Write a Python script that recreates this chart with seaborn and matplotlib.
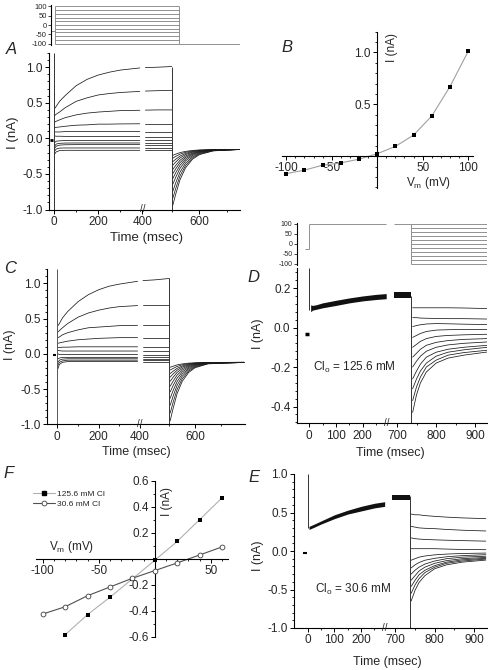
import numpy as np
import pandas as pd
import matplotlib
matplotlib.use("Agg")
import matplotlib.pyplot as plt
import seaborn as sns
from matplotlib.ticker import FixedLocator, AutoMinorLocator, MultipleLocator, FormatStrFormatter
from matplotlib.lines import Line2D

# ---------------- data ----------------
STEP_LEVELS = [100, 80, 60, 40, 20, 0, -20, -40, -60, -80, -100]

# Panel A (current traces, nA)
A_T_PULSE = [3, 10, 25, 50, 100, 150, 200, 250, 300, 388, 410, 450, 500]
A_PULSE = [
    [0.42, 0.45, 0.52, 0.60, 0.74, 0.83, 0.89, 0.93, 0.96, 0.99, 0.995, 1.00, 1.01],
    [0.32, 0.34, 0.37, 0.43, 0.52, 0.57, 0.61, 0.63, 0.645, 0.66, 0.665, 0.67, 0.675],
    [0.23, 0.24, 0.26, 0.29, 0.33, 0.355, 0.37, 0.38, 0.39, 0.395, 0.397, 0.40, 0.40],
    [0.15, 0.155, 0.16, 0.17, 0.185, 0.19, 0.20, 0.20, 0.203, 0.205, 0.205, 0.205, 0.205],
    [0.09, 0.09, 0.09, 0.095, 0.095, 0.095, 0.095, 0.095, 0.095, 0.095, 0.095, 0.095, 0.095],
    [0.035, 0.03, 0.03, 0.028, 0.025, 0.025, 0.025, 0.025, 0.025, 0.025, 0.025, 0.025, 0.025],
    [-0.06, -0.04, -0.035, -0.03, -0.03, -0.03, -0.03, -0.03, -0.03, -0.03, -0.03, -0.03, -0.03],
    [-0.11, -0.08, -0.07, -0.066, -0.065, -0.065, -0.065, -0.065, -0.065, -0.065, -0.065, -0.065, -0.065],
    [-0.14, -0.11, -0.095, -0.09, -0.088, -0.087, -0.087, -0.087, -0.087, -0.087, -0.087, -0.087, -0.087],
    [-0.18, -0.15, -0.137, -0.135, -0.135, -0.135, -0.135, -0.135, -0.135, -0.135, -0.135, -0.135, -0.135],
    [-0.22, -0.19, -0.172, -0.168, -0.168, -0.168, -0.168, -0.168, -0.168, -0.168, -0.168, -0.168, -0.168],
]
A_T_TAIL = [503, 515, 530, 550, 575, 600, 650, 745]
A_TAIL = [
    [-0.95, -0.774, -0.580, -0.413, -0.293, -0.229, -0.176, -0.157],
    [-0.85, -0.696, -0.527, -0.381, -0.276, -0.220, -0.174, -0.157],
    [-0.75, -0.618, -0.473, -0.348, -0.259, -0.210, -0.171, -0.156],
    [-0.65, -0.541, -0.420, -0.316, -0.241, -0.201, -0.168, -0.156],
    [-0.57, -0.478, -0.377, -0.290, -0.227, -0.194, -0.166, -0.156],
    [-0.50, -0.424, -0.340, -0.267, -0.215, -0.187, -0.164, -0.156],
    [-0.44, -0.377, -0.307, -0.248, -0.205, -0.182, -0.163, -0.156],
    [-0.38, -0.330, -0.275, -0.228, -0.194, -0.176, -0.161, -0.155],
    [-0.33, -0.291, -0.249, -0.212, -0.185, -0.171, -0.160, -0.155],
    [-0.28, -0.252, -0.222, -0.196, -0.177, -0.167, -0.158, -0.155],
    [-0.24, -0.221, -0.200, -0.183, -0.170, -0.163, -0.157, -0.155],
]
A_HOLD = [-18, -6]
A_HOLD_I = [-0.03, -0.03]

# Panel B (steady-state I-V)
B_V = [-100, -80, -60, -40, -20, 0, 20, 40, 60, 80, 100]
B_I = [-0.168, -0.135, -0.087, -0.065, -0.029, 0.023, 0.094, 0.203, 0.387, 0.671, 1.01]

# Panel C
C_T_PULSE = [3, 10, 25, 50, 100, 150, 200, 250, 300, 388, 410, 450, 500]
C_PULSE = [
    [0.40, 0.43, 0.51, 0.60, 0.74, 0.84, 0.91, 0.96, 0.99, 1.03, 1.04, 1.05, 1.07],
    [0.31, 0.33, 0.37, 0.43, 0.52, 0.58, 0.62, 0.65, 0.67, 0.685, 0.69, 0.69, 0.69],
    [0.23, 0.24, 0.27, 0.30, 0.34, 0.37, 0.38, 0.39, 0.40, 0.405, 0.41, 0.41, 0.41],
    [0.15, 0.155, 0.165, 0.18, 0.20, 0.21, 0.22, 0.225, 0.23, 0.23, 0.23, 0.23, 0.23],
    [0.09, 0.09, 0.095, 0.095, 0.10, 0.10, 0.10, 0.10, 0.10, 0.10, 0.10, 0.10, 0.10],
    [0.05, 0.045, 0.04, 0.04, 0.04, 0.04, 0.04, 0.04, 0.04, 0.04, 0.04, 0.04, 0.04],
    [0.0, -0.01, -0.01, -0.01, -0.01, -0.01, -0.01, -0.01, -0.01, -0.01, -0.01, -0.01, -0.01],
    [-0.07, -0.06, -0.05, -0.05, -0.05, -0.05, -0.05, -0.05, -0.05, -0.05, -0.05, -0.05, -0.05],
    [-0.12, -0.09, -0.075, -0.07, -0.07, -0.07, -0.07, -0.07, -0.07, -0.07, -0.07, -0.07, -0.07],
    [-0.16, -0.12, -0.10, -0.09, -0.09, -0.09, -0.09, -0.09, -0.09, -0.09, -0.09, -0.09, -0.09],
    [-0.21, -0.15, -0.12, -0.11, -0.11, -0.11, -0.11, -0.11, -0.11, -0.11, -0.11, -0.11, -0.11],
]
C_T_TAIL = [503, 515, 530, 550, 575, 600, 650, 790]
C_TAIL = [
    [-0.95, -0.767, -0.564, -0.390, -0.264, -0.197, -0.142, -0.122],
    [-0.84, -0.681, -0.505, -0.354, -0.245, -0.187, -0.139, -0.122],
    [-0.73, -0.595, -0.446, -0.318, -0.226, -0.177, -0.136, -0.122],
    [-0.63, -0.517, -0.393, -0.286, -0.209, -0.167, -0.134, -0.121],
    [-0.54, -0.447, -0.345, -0.257, -0.193, -0.159, -0.131, -0.121],
    [-0.46, -0.385, -0.302, -0.231, -0.179, -0.152, -0.129, -0.121],
    [-0.39, -0.330, -0.264, -0.208, -0.167, -0.145, -0.127, -0.121],
    [-0.33, -0.284, -0.232, -0.188, -0.157, -0.140, -0.126, -0.121],
    [-0.28, -0.245, -0.206, -0.172, -0.148, -0.135, -0.124, -0.120],
    [-0.23, -0.206, -0.179, -0.156, -0.139, -0.130, -0.123, -0.120],
    [-0.19, -0.175, -0.157, -0.143, -0.132, -0.127, -0.122, -0.120],
]
C_HOLD = [-22, -4]
C_HOLD_I = [-0.015, -0.015]

# Panel D (Cl_o = 125.6 mM)
D_BAND_T1 = [5, 12, 25, 50, 100, 150, 200, 250, 288]
D_BAND_LO1 = [0.080, 0.088, 0.092, 0.100, 0.112, 0.125, 0.135, 0.142, 0.146]
D_BAND_HI1 = [0.115, 0.112, 0.115, 0.125, 0.138, 0.150, 0.160, 0.168, 0.172]
D_BAND_T2 = [692, 737]
D_BAND_LO2 = [0.150, 0.150]
D_BAND_HI2 = [0.178, 0.178]
D_T_TAIL = [740, 750, 760, 775, 800, 830, 870, 930]
D_TAIL = [
    [0.10, 0.10, 0.10, 0.10, 0.10, 0.10, 0.099, 0.096],
    [0.05, 0.05, 0.048, 0.047, 0.046, 0.045, 0.045, 0.043],
    [0.005, 0.010, 0.014, 0.018, 0.02, 0.019, 0.017, 0.015],
    [-0.05, -0.04, -0.03, -0.02, -0.013, -0.011, -0.01, -0.01],
    [-0.10, -0.085, -0.07, -0.056, -0.045, -0.04, -0.037, -0.034],
    [-0.15, -0.13, -0.11, -0.09, -0.075, -0.066, -0.06, -0.056],
    [-0.20, -0.17, -0.145, -0.12, -0.10, -0.088, -0.08, -0.073],
    [-0.26, -0.22, -0.185, -0.15, -0.125, -0.11, -0.10, -0.09],
    [-0.31, -0.26, -0.22, -0.18, -0.145, -0.125, -0.113, -0.10],
    [-0.37, -0.30, -0.25, -0.20, -0.165, -0.14, -0.127, -0.115],
    [-0.43, -0.34, -0.28, -0.225, -0.18, -0.155, -0.14, -0.124],
]
D_HOLD = [-16, -3]
D_HOLD_I = [-0.035, -0.035]

# Panel E (Cl_o = 30.6 mM)
E_BAND_T1 = [5, 12, 25, 50, 100, 150, 200, 250, 288]
E_BAND_LO1 = [0.28, 0.29, 0.31, 0.35, 0.42, 0.48, 0.52, 0.56, 0.58]
E_BAND_HI1 = [0.32, 0.33, 0.35, 0.39, 0.47, 0.53, 0.58, 0.62, 0.64]
E_BAND_T2 = [692, 737]
E_BAND_LO2 = [0.66, 0.66]
E_BAND_HI2 = [0.73, 0.73]
E_T_TAIL = [740, 750, 760, 775, 800, 830, 870, 930]
E_TAIL = [
    [0.48, 0.47, 0.47, 0.46, 0.45, 0.44, 0.43, 0.42],
    [0.32, 0.31, 0.30, 0.295, 0.29, 0.28, 0.27, 0.26],
    [0.17, 0.16, 0.155, 0.15, 0.145, 0.14, 0.135, 0.128],
    [0.03, 0.03, 0.03, 0.03, 0.03, 0.025, 0.02, 0.017],
    [-0.12, -0.10, -0.08, -0.065, -0.05, -0.04, -0.032, -0.027],
    [-0.22, -0.18, -0.15, -0.12, -0.095, -0.075, -0.06, -0.048],
    [-0.30, -0.25, -0.21, -0.17, -0.13, -0.10, -0.08, -0.068],
    [-0.38, -0.32, -0.26, -0.21, -0.16, -0.125, -0.10, -0.083],
    [-0.46, -0.38, -0.31, -0.25, -0.19, -0.145, -0.115, -0.095],
    [-0.55, -0.44, -0.36, -0.28, -0.21, -0.16, -0.13, -0.105],
    [-0.65, -0.51, -0.41, -0.32, -0.23, -0.18, -0.145, -0.118],
]
E_HOLD = [-16, -3]
E_HOLD_I = [-0.02, -0.02]

# Panel F (I-V at two [Cl]o)
F_V_HI = [-80, -60, -40, -20, 0, 20, 40, 60]
F_I_HI = [-0.585, -0.43, -0.297, -0.155, -0.013, 0.133, 0.30, 0.467]
F_V_LO = [-100, -80, -60, -40, -20, 0, 20, 40, 60]
F_I_LO = [-0.426, -0.37, -0.285, -0.218, -0.151, -0.092, -0.033, 0.028, 0.09]
F_LABELS = ["125.6 mM Cl", "30.6 mM Cl"]

# ---------------- style ----------------
sns.set_theme(style="ticks")
plt.rcParams["font.family"] = ["Liberation Sans", "DejaVu Sans"]
plt.rcParams["mathtext.fontset"] = "custom"
plt.rcParams["mathtext.rm"] = "Liberation Sans"
plt.rcParams["mathtext.it"] = "Liberation Sans:italic"
plt.rcParams["axes.unicode_minus"] = False
plt.rcParams["axes.linewidth"] = 0.8
plt.rcParams["axes.edgecolor"] = "black"

W, H = 489, 670
fig = plt.figure(figsize=(W / 100, H / 100), dpi=100)


def box(l, t, r, b):
    return [l / W, 1 - b / H, (r - l) / W, (b - t) / H]


def fx(px):
    return px / W


def fy(py):
    return 1 - py / H


def pw(tb, ub):
    tb = np.asarray(tb, float)
    ub = np.asarray(ub, float)
    return (lambda x: np.interp(x, tb, ub), lambda u: np.interp(u, ub, tb))


def draw_segments(ax, segs, color="black", lw=0.6):
    rows = []
    for k, (ts, vs) in enumerate(segs):
        rows += [(t, v, k) for t, v in zip(ts, vs)]
    df = pd.DataFrame(rows, columns=["t", "I", "seg"])
    sns.lineplot(data=df, x="t", y="I", units="seg", estimator=None, color=color,
                 lw=lw, ax=ax, legend=False, sort=True)


def style_trace_axes(ax, labelsize=8):
    ax.spines[["top", "right"]].set_visible(False)
    ax.tick_params(which="major", direction="out", length=3, width=0.7, labelsize=labelsize, pad=1.5,
                   color="black")
    ax.tick_params(which="minor", direction="out", length=1.6, width=0.6, color="black")
    ax.set_xlabel("")
    ax.set_ylabel("")


TXT = dict(color="black")

# ---------------- Panel A protocol ----------------
axAp = fig.add_axes(box(51, 5, 240, 45))
axAp.hlines(STEP_LEVELS, 0, 500, color="#808080", lw=0.6)
axAp.vlines([0, 500], -100, 100, color="#808080", lw=0.6)
axAp.hlines([-100], 500, 743, color="#808080", lw=0.6)
axAp.hlines([-30], -16, 0, color="#808080", lw=0.6, clip_on=False)
axAp.set_xlim(-16, 743)
axAp.set_ylim(-108, 108)
axAp.spines[["top", "right", "bottom"]].set_visible(False)
axAp.set_xticks([])
axAp.set_yticks([100, 50, 0, -50, -100])
axAp.tick_params(axis="y", direction="out", length=2, width=0.6, labelsize=5.5, pad=1)

# ---------------- Panel A main ----------------
axA = fig.add_axes(box(49, 53, 240, 209.5))
segsA = []
for vals in A_PULSE:
    segsA.append((A_T_PULSE[:10], vals[:10]))
    segsA.append((A_T_PULSE[10:], vals[10:]))
for vals in A_TAIL:
    segsA.append((A_T_TAIL, vals))
draw_segments(axA, segsA, color="#1a1a1a", lw=0.55)
axA.vlines([0], -1.0, 1.2, color="#333333", lw=0.7)
axA.vlines([500], -1.0, 1.01, color="#333333", lw=0.7)
axA.plot(A_HOLD, A_HOLD_I, color="black", lw=2.0, solid_capstyle="butt")
axA.set_xscale("function", functions=pw([-10000, 400, 500, 10000], [-2210, 88.4, 117.7, 2739.7]))
axA.set_xlim(-22.6, 747)
axA.set_ylim(-1.0, 1.2)
axA.xaxis.set_major_locator(FixedLocator([0, 200, 400, 600]))
axA.xaxis.set_minor_locator(FixedLocator([100, 300, 500, 700]))
axA.set_xticklabels(["0", "200", "400", "600"])
axA.yaxis.set_major_locator(FixedLocator([-1.0, -0.5, 0.0, 0.5, 1.0]))
axA.yaxis.set_minor_locator(MultipleLocator(0.1))
axA.yaxis.set_major_formatter(FormatStrFormatter("%.1f"))
style_trace_axes(axA, 8.5)
axA.text(400, -1.0, "//", ha="center", va="center", fontsize=7, clip_on=False)
fig.text(fx(146.7), fy(238), "Time (msec)", ha="center", va="center", fontsize=9.5)
fig.text(fx(13.3), fy(132.5), "I (nA)", ha="center", va="center", rotation=90, fontsize=9.5)
fig.text(fx(11), fy(50), "A", ha="center", va="center", fontsize=12, style="italic")

# ---------------- Panel B ----------------
axB = fig.add_axes(box(281.7, 31.7, 472.7, 188.3))
sns.lineplot(x=B_V, y=B_I, color="#a0a0a0", lw=0.8, ax=axB, sort=False)
sns.scatterplot(x=B_V, y=B_I, marker="s", color="black", s=8, linewidth=0, ax=axB, zorder=3)
axB.set_xlim(-105, 105)
axB.set_ylim(-0.31, 1.2)
axB.spines["left"].set_position(("data", 0))
axB.spines["bottom"].set_position(("data", 0))
axB.spines[["top", "right"]].set_visible(False)
axB.xaxis.set_major_locator(FixedLocator([-100, -50, 50, 100]))
axB.xaxis.set_minor_locator(MultipleLocator(10))
axB.yaxis.set_major_locator(FixedLocator([0.5, 1.0]))
axB.yaxis.set_minor_locator(MultipleLocator(0.1))
axB.yaxis.set_major_formatter(FormatStrFormatter("%.1f"))
style_trace_axes(axB, 8.5)
fig.text(fx(392), fy(48), "I (nA)", ha="center", va="center", rotation=90, fontsize=8.5)
fig.text(fx(429), fy(182.7), r"V$_\mathregular{m}$ (mV)", ha="center", va="center", fontsize=8.5)
fig.text(fx(287), fy(47.7), "B", ha="center", va="center", fontsize=12, style="italic")

# ---------------- Panel C ----------------
axC = fig.add_axes(box(47, 269.3, 245, 424.3))
segsC = []
for vals in C_PULSE:
    segsC.append((C_T_PULSE[:10], vals[:10]))
    segsC.append((C_T_PULSE[10:], vals[10:]))
for vals in C_TAIL:
    segsC.append((C_T_TAIL, vals))
draw_segments(axC, segsC, color="#1a1a1a", lw=0.55)
axC.vlines([0], -1.0, 1.2, color="#555555", lw=0.7)
axC.vlines([500], -1.0, 1.07, color="#333333", lw=0.7)
axC.plot(C_HOLD, C_HOLD_I, color="black", lw=1.5, solid_capstyle="butt")
axC.set_xscale("function", functions=pw([-10000, 400, 500, 10000], [-2068, 82.7, 112.0, 2553.5]))
axC.set_xlim(-49.8, 794)
axC.set_ylim(-1.0, 1.2)
axC.xaxis.set_major_locator(FixedLocator([0, 200, 400, 600]))
axC.xaxis.set_minor_locator(FixedLocator([100, 300, 500, 700]))
axC.set_xticklabels(["0", "200", "400", "600"])
axC.yaxis.set_major_locator(FixedLocator([-1.0, -0.5, 0.0, 0.5, 1.0]))
axC.yaxis.set_minor_locator(MultipleLocator(0.1))
axC.yaxis.set_major_formatter(FormatStrFormatter("%.1f"))
style_trace_axes(axC, 8.5)
axC.text(400, -1.0, "//", ha="center", va="center", fontsize=7, clip_on=False)
fig.text(fx(136.7), fy(451.7), "Time (msec)", ha="center", va="center", fontsize=9)
fig.text(fx(10), fy(345), "I (nA)", ha="center", va="center", rotation=90, fontsize=9)
fig.text(fx(10), fy(268.3), "C", ha="center", va="center", fontsize=12, style="italic")

# ---------------- Panel D ----------------
DE_FUNCS = pw([-10000, 290, 690, 10000], [-2670, 77.43, 83.7, 3737.9])
axDp = fig.add_axes(box(296.7, 223, 487, 265))
axDp.hlines([-26], -15, 0, color="#808080", lw=0.6, clip_on=False)
axDp.vlines([0], -26, 100, color="#808080", lw=0.6)
axDp.hlines([100], 0, 288, color="#808080", lw=0.6)
axDp.hlines([100], 692, 737, color="#808080", lw=0.6)
axDp.vlines([737], -100, 100, color="#808080", lw=0.6)
axDp.hlines(STEP_LEVELS, 737, 930, color="#808080", lw=0.6)
axDp.set_xscale("function", functions=DE_FUNCS)
axDp.set_xlim(-47.2, 929.5)
axDp.set_ylim(-105, 105)
axDp.spines[["top", "right", "bottom"]].set_visible(False)
axDp.set_xticks([])
axDp.set_yticks([100, 50, 0, -50, -100])
axDp.tick_params(axis="y", direction="out", length=2, width=0.6, labelsize=5, pad=1)

axD = fig.add_axes(box(296.7, 268.3, 487, 423.3))
axD.fill_between(D_BAND_T1, D_BAND_LO1, D_BAND_HI1, color="#111111", lw=0)
axD.fill_between(D_BAND_T2, D_BAND_LO2, D_BAND_HI2, color="#111111", lw=0)
draw_segments(axD, [(D_T_TAIL, v) for v in D_TAIL], color="#1a1a1a", lw=0.55)
axD.vlines([0], 0.09, 0.30, color="#333333", lw=0.7)
axD.vlines([737], -0.485, 0.16, color="#333333", lw=0.7)
axD.plot(D_HOLD, D_HOLD_I, color="black", lw=2.5, solid_capstyle="butt")
axD.set_xscale("function", functions=DE_FUNCS)
axD.set_xlim(-47.2, 929.5)
axD.set_ylim(-0.485, 0.30)
axD.xaxis.set_major_locator(FixedLocator([0, 100, 200, 700, 800, 900]))
axD.xaxis.set_minor_locator(FixedLocator([50, 150, 250, 750, 850]))
axD.set_xticklabels(["0", "100", "200", "700", "800", "900"])
axD.yaxis.set_major_locator(FixedLocator([-0.4, -0.2, 0.0, 0.2]))
axD.yaxis.set_minor_locator(MultipleLocator(0.04))
axD.yaxis.set_major_formatter(FormatStrFormatter("%.1f"))
style_trace_axes(axD, 8.5)
axD.text(290, -0.485, "//", ha="center", va="center", fontsize=7, clip_on=False)
axD.text(170, -0.20, r"Cl$_\mathregular{o}$ = 125.6 mM", ha="center", va="center", fontsize=8.5)
fig.text(fx(390), fy(453), "Time (msec)", ha="center", va="center", fontsize=9)
fig.text(fx(258.3), fy(334), "I (nA)", ha="center", va="center", rotation=90, fontsize=9)
fig.text(fx(253), fy(277), "D", ha="center", va="center", fontsize=12, style="italic")

# ---------------- Panel E ----------------
axE = fig.add_axes(box(294, 474, 487, 628))
axE.fill_between(E_BAND_T1, E_BAND_LO1, E_BAND_HI1, color="#111111", lw=0)
axE.fill_between(E_BAND_T2, E_BAND_LO2, E_BAND_HI2, color="#111111", lw=0)
draw_segments(axE, [(E_T_TAIL, v) for v in E_TAIL], color="#1a1a1a", lw=0.55)
axE.vlines([0], 0.30, 1.0, color="#333333", lw=0.7)
axE.vlines([737], -1.0, 0.72, color="#333333", lw=0.7)
axE.plot(E_HOLD, E_HOLD_I, color="black", lw=1.5, solid_capstyle="butt")
axE.set_xscale("function", functions=DE_FUNCS)
axE.set_xlim(-51, 933)
axE.set_ylim(-1.0, 1.0)
axE.xaxis.set_major_locator(FixedLocator([0, 100, 200, 700, 800, 900]))
axE.xaxis.set_minor_locator(FixedLocator([50, 150, 250, 750, 850]))
axE.set_xticklabels(["0", "100", "200", "700", "800", "900"])
axE.yaxis.set_major_locator(FixedLocator([-1.0, -0.5, 0.0, 0.5, 1.0]))
axE.yaxis.set_minor_locator(MultipleLocator(0.1))
axE.yaxis.set_major_formatter(FormatStrFormatter("%.1f"))
style_trace_axes(axE, 8.5)
axE.text(290, -1.0, "//", ha="center", va="center", fontsize=7, clip_on=False)
axE.text(170, -0.5, r"Cl$_\mathregular{o}$ = 30.6 mM", ha="center", va="center", fontsize=8.5)
fig.text(fx(387.5), fy(661.7), "Time (msec)", ha="center", va="center", fontsize=9)
fig.text(fx(258.3), fy(556), "I (nA)", ha="center", va="center", rotation=90, fontsize=9)
fig.text(fx(254), fy(477), "E", ha="center", va="center", fontsize=12, style="italic")

# ---------------- Panel F ----------------
axF = fig.add_axes(box(36, 480.5, 227.7, 636.7))
sns.lineplot(x=F_V_HI, y=F_I_HI, color="#b0b0b0", lw=0.8, ax=axF, sort=False)
sns.lineplot(x=F_V_LO, y=F_I_LO, color="#505050", lw=0.8, ax=axF, sort=False)
sns.scatterplot(x=F_V_HI, y=F_I_HI, marker="s", color="black", s=9, linewidth=0, ax=axF, zorder=3)
sns.scatterplot(x=F_V_LO, y=F_I_LO, marker="o", facecolor="white", edgecolor="#404040", s=12,
                linewidth=0.6, ax=axF, zorder=4)
axF.set_xlim(-106, 65)
axF.set_ylim(-0.6, 0.6)
axF.spines["left"].set_position(("data", 0))
axF.spines["bottom"].set_position(("data", 0))
axF.spines[["top", "right"]].set_visible(False)
axF.xaxis.set_major_locator(FixedLocator([-100, -50, 50]))
axF.xaxis.set_minor_locator(MultipleLocator(10))
axF.yaxis.set_major_locator(FixedLocator([-0.6, -0.4, -0.2, 0.2, 0.4, 0.6]))
axF.yaxis.set_minor_locator(MultipleLocator(0.1))
axF.yaxis.set_major_formatter(FormatStrFormatter("%.1f"))
style_trace_axes(axF, 8.5)
handles = [
    Line2D([], [], color="#b0b0b0", lw=0.8, marker="s", mfc="black", mec="black", ms=3),
    Line2D([], [], color="#505050", lw=0.8, marker="o", mfc="white", mec="#404040", ms=3.5, mew=0.6),
]
fig.legend(handles, F_LABELS, loc="upper left", bbox_to_anchor=(fx(33), fy(490)), frameon=False,
           fontsize=6, handlelength=2.6, handletextpad=0.3, labelspacing=0.25, borderpad=0,
           borderaxespad=0)
fig.text(fx(166.7), fy(501), "I (nA)", ha="center", va="center", rotation=90, fontsize=8.5)
fig.text(fx(71.7), fy(547), r"V$_\mathregular{m}$ (mV)", ha="center", va="center", fontsize=8.5)
fig.text(fx(9), fy(473), "F", ha="center", va="center", fontsize=12, style="italic")

fig.savefig("out.png", dpi=100)
